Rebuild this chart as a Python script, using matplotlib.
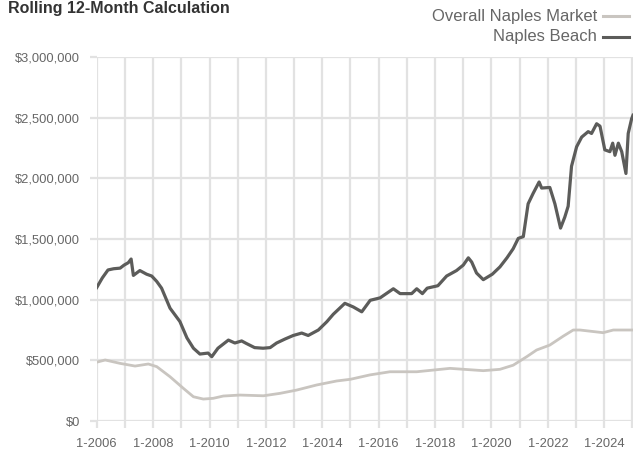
import matplotlib
matplotlib.use("Agg")
import matplotlib.pyplot as plt
from matplotlib.ticker import FuncFormatter, MultipleLocator

plt.rcParams["font.family"] = ["Liberation Sans", "DejaVu Sans"]

# -------------------- data -------------------- #

beach_years = [
    2006.00, 2006.20, 2006.40, 2006.60, 2006.83, 2006.97, 2007.12, 2007.22, 2007.30, 2007.53,
    2007.77, 2007.95, 2008.13, 2008.30, 2008.60, 2008.95, 2009.20, 2009.43, 2009.66, 2009.95,
    2010.08, 2010.30, 2010.67, 2010.90, 2011.14, 2011.30, 2011.60, 2011.90, 2012.15, 2012.38,
    2012.68, 2012.97, 2013.27, 2013.50, 2013.86, 2014.16, 2014.39, 2014.80, 2015.10, 2015.40,
    2015.70, 2016.05, 2016.52, 2016.76, 2017.17, 2017.35, 2017.55, 2017.72, 2018.10, 2018.41,
    2018.76, 2019.00, 2019.18, 2019.30, 2019.47, 2019.71, 2020.03, 2020.30, 2020.55, 2020.77,
    2020.95, 2021.13, 2021.30, 2021.48, 2021.69, 2021.78, 2022.07, 2022.25, 2022.45, 2022.60,
    2022.72, 2022.84, 2023.02, 2023.20, 2023.43, 2023.55, 2023.73, 2023.85, 2024.02, 2024.20,
    2024.30, 2024.38, 2024.50, 2024.62, 2024.77, 2024.85, 2024.97, 2025.02,
]
beach_price = [
    1100000, 1180000, 1245000, 1255000, 1260000, 1285000, 1305000, 1335000, 1200000, 1240000,
    1210000, 1195000, 1150000, 1095000, 930000, 820000, 685000, 600000, 552000, 560000,
    530000, 600000, 667000, 643000, 660000, 640000, 605000, 600000, 605000, 643000,
    676000, 705000, 725000, 705000, 750000, 818000, 880000, 970000, 940000, 900000,
    995000, 1015000, 1090000, 1050000, 1050000, 1090000, 1050000, 1095000, 1115000, 1195000,
    1240000, 1285000, 1345000, 1310000, 1220000, 1165000, 1210000, 1270000, 1345000, 1420000,
    1505000, 1520000, 1790000, 1877000, 1970000, 1920000, 1925000, 1790000, 1590000, 1680000,
    1770000, 2100000, 2260000, 2340000, 2385000, 2370000, 2450000, 2430000, 2235000, 2220000,
    2290000, 2190000, 2290000, 2220000, 2040000, 2370000, 2490000, 2520000,
]

market_years = [
    2006.00, 2006.30, 2006.83, 2007.36, 2007.83, 2008.13, 2008.60, 2009.07, 2009.43, 2009.78,
    2010.13, 2010.49, 2011.08, 2011.91, 2012.50, 2013.09, 2013.80, 2014.51, 2015.00, 2015.69,
    2016.40, 2017.35, 2018.53, 2019.71, 2020.30, 2020.77, 2021.25, 2021.60, 2022.07, 2022.55,
    2022.90, 2023.14, 2023.96, 2024.32, 2025.02,
]
market_price = [
    485000, 503000, 475000, 453000, 470000, 448000, 365000, 270000, 200000, 181000,
    187000, 206000, 214000, 208000, 228000, 255000, 297000, 330000, 344000, 380000,
    406000, 406000, 434000, 415000, 426000, 460000, 530000, 585000, 626000, 700000,
    750000, 750000, 728000, 750000, 750000,
]

tick_years = list(range(2006, 2025, 2))
tick_labels = [f"1-{y}" for y in tick_years]

# -------------------- figure -------------------- #

grid_col = "#e2e2e2"
text_col = "#666666"

fig = plt.figure(figsize=(6.33, 4.5), dpi=100)
ax = fig.add_axes([0.1528, 0.0644, 0.8472, 0.8089])

ax.plot(market_years, market_price, color="#c9c5c0", lw=2.0, solid_joinstyle="round")
ax.plot(beach_years, beach_price, color="#5c5c5a", lw=2.3, solid_joinstyle="round")

ax.set_xlim(2006, 2025.02)
ax.set_ylim(0, 3000000)

ax.set_xticks(tick_years)
ax.set_xticklabels(tick_labels)
ax.xaxis.set_minor_locator(MultipleLocator(1))
ax.yaxis.set_major_locator(MultipleLocator(500000))
ax.yaxis.set_major_formatter(FuncFormatter(lambda v, _: f"${v:,.0f}"))

ax.grid(True, which="both", color=grid_col, lw=1.6)
ax.set_axisbelow(True)
for s in ax.spines.values():
    s.set_visible(False)
ax.tick_params(which="both", length=5, width=1.6, color=grid_col,
               labelcolor=text_col, labelsize=9.3)
ax.tick_params(axis="y", pad=7)
ax.tick_params(axis="x", pad=7)

fig.text(0.013, 0.982, "Rolling 12-Month Calculation", fontsize=11.5,
         fontweight="bold", color="#333333", va="center", ha="left")

# legend drawn as right-aligned text + line sample
for ypos, label, col in [(0.964, "Overall Naples Market", "#c9c5c0"),
                         (0.918, "Naples Beach", "#5c5c5a")]:
    fig.text(0.943, ypos, label, fontsize=12, color=text_col, ha="right", va="center")
    fig.add_artist(plt.Line2D([0.953, 0.993], [ypos, ypos], color=col, lw=2.2,
                              transform=fig.transFigure))

fig.savefig("out.png", dpi=100)
